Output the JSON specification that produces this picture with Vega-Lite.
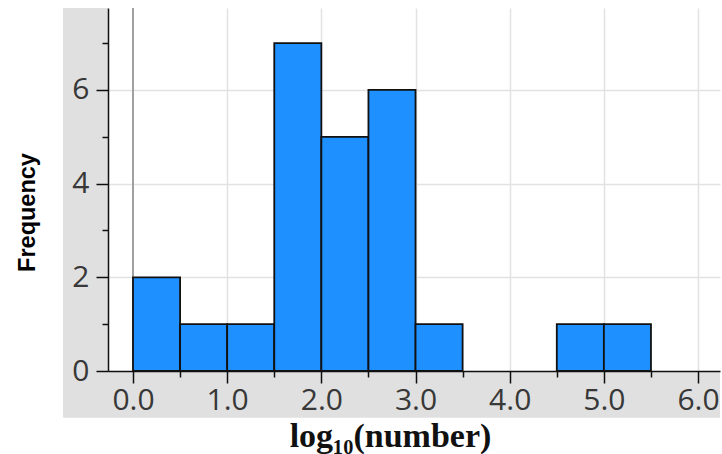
{
  "$schema": "https://vega.github.io/schema/vega-lite/v6.json",
  "width": 612,
  "height": 363,
  "autosize": {"type": "none"},
  "padding": {"left": 108, "top": 8, "right": 2, "bottom": 83},
  "background": "white",
  "config": {"view": {"stroke": null}},
  "layer": [
    {
      "data": {"values": [{}]},
      "mark": {"type": "rect", "fill": "black", "opacity": 0.12, "clip": false},
      "encoding": {
        "x": {"datum": -0.744, "type": "quantitative"},
        "x2": {"datum": -0.2655},
        "y": {"datum": -1.0, "type": "quantitative"},
        "y2": {"datum": 7.75}
      }
    },
    {
      "data": {"values": [{}]},
      "mark": {"type": "rect", "fill": "black", "opacity": 0.12, "clip": false},
      "encoding": {
        "x": {"datum": -0.2655, "type": "quantitative"},
        "x2": {"datum": 6.233},
        "y": {"datum": -1.0, "type": "quantitative"},
        "y2": {"datum": 0}
      }
    },
    {
      "data": {"values": [{}]},
      "mark": {"type": "rule", "color": "#a0a0a0", "strokeWidth": 2},
      "encoding": {
        "x": {"datum": 0, "type": "quantitative"}
      }
    },
    {
      "data": {
        "values": [
          {"bin_start": 0.0, "bin_end": 0.5, "count": 2},
          {"bin_start": 0.5, "bin_end": 1.0, "count": 1},
          {"bin_start": 1.0, "bin_end": 1.5, "count": 1},
          {"bin_start": 1.5, "bin_end": 2.0, "count": 7},
          {"bin_start": 2.0, "bin_end": 2.5, "count": 5},
          {"bin_start": 2.5, "bin_end": 3.0, "count": 6},
          {"bin_start": 3.0, "bin_end": 3.5, "count": 1},
          {"bin_start": 4.5, "bin_end": 5.0, "count": 1},
          {"bin_start": 5.0, "bin_end": 5.5, "count": 1}
        ]
      },
      "mark": {"type": "rect", "fill": "#1e90ff", "stroke": "#111111", "strokeWidth": 1.8},
      "encoding": {
        "x": {
          "field": "bin_start",
          "type": "quantitative",
          "scale": {"domain": [-0.2655, 6.233], "nice": false, "zero": false},
          "axis": {
            "title": "log₁₀(number)",
            "values": [0, 0.5, 1, 1.5, 2, 2.5, 3, 3.5, 4, 4.5, 5, 5.5, 6],
            "labelExpr": "datum.value % 1 == 0 ? format(datum.value, '.1f') : ''",
            "labelOverlap": false,
            "labelFlush": false,
            "labelBound": false,
            "labelFont": "Open Sans",
            "labelFontSize": 30,
            "labelColor": "#404040",
            "labelPadding": 2,
            "tickSize": {"condition": {"test": "datum.value % 1 != 0", "value": 6}, "value": 12},
            "tickColor": "#111111",
            "tickWidth": 1.5,
            "domainColor": "#111111",
            "domainWidth": 1.5,
            "grid": true,
            "gridColor": "#e2e2e2",
            "gridWidth": 1.5,
            "gridOpacity": {"condition": {"test": "datum.value % 1 != 0 || datum.value == 0", "value": 0}, "value": 1},
            "titleFont": "Liberation Serif",
            "titleFontWeight": "bold",
            "titleFontSize": 34,
            "titleColor": "#111111",
            "titleX": 282,
            "titleY": 65,
            "titleBaseline": "middle",
            "titleAlign": "center"
          }
        },
        "x2": {"field": "bin_end"},
        "y": {
          "field": "count",
          "type": "quantitative",
          "scale": {"domain": [0, 7.75], "nice": false},
          "axis": {
            "title": "Frequency",
            "values": [0, 1, 2, 3, 4, 5, 6, 7],
            "labelExpr": "datum.value % 2 == 0 ? format(datum.value, 'd') : ''",
            "labelOverlap": false,
            "labelFlush": false,
            "labelBound": false,
            "labelFont": "Open Sans",
            "labelFontSize": 30,
            "labelColor": "#404040",
            "labelPadding": 7,
            "tickSize": {"condition": {"test": "datum.value % 2 != 0", "value": 6}, "value": 12},
            "tickColor": "#111111",
            "tickWidth": 1.5,
            "domainColor": "#111111",
            "domainWidth": 1.5,
            "grid": true,
            "gridColor": "#e2e2e2",
            "gridWidth": 1.5,
            "gridOpacity": {"condition": {"test": "datum.value % 2 != 0 || datum.value == 0", "value": 0}, "value": 1},
            "titleFont": "Liberation Sans",
            "titleFontWeight": "bold",
            "titleFontSize": 23.5,
            "titleColor": "#000000",
            "titleAngle": -90,
            "titleX": -81,
            "titleY": 204,
            "titleBaseline": "middle",
            "titleAlign": "center"
          }
        },
        "y2": {"datum": 0}
      }
    }
  ]
}
